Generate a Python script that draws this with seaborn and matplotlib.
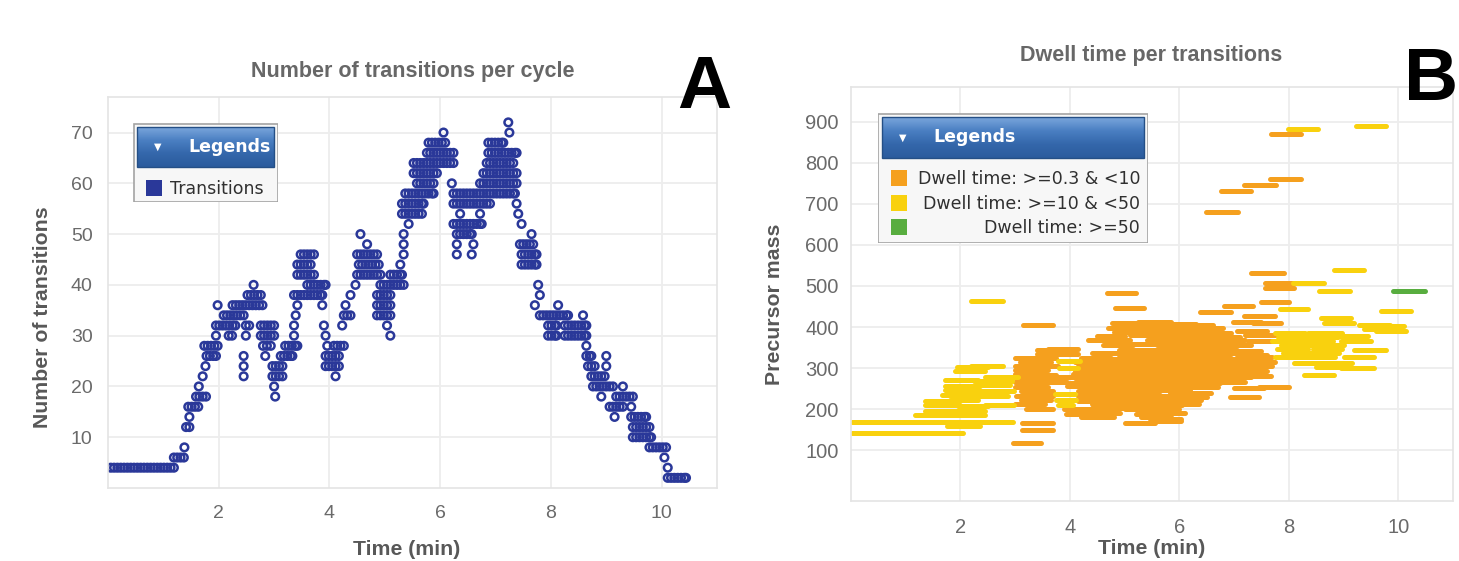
import matplotlib
matplotlib.use("Agg")
import matplotlib.pyplot as plt
from matplotlib.patches import Rectangle
from matplotlib.colors import LinearSegmentedColormap
import numpy as np
import pandas as pd
import seaborn as sns

# ---------------- Panel A: transitions scheduled in each cycle ----------------
count_levels = [2, 4, 6, 8, 10, 12, 14, 16, 18, 20, 22, 24, 26, 28, 30, 32, 34, 36,
                38, 40, 42, 44, 46, 48, 50, 52, 54, 56, 58, 60, 62, 64, 66, 68, 70, 72]

level_times = [
    [10.11, 10.17, 10.23, 10.29, 10.35, 10.41, 10.44],                                   # 2
    [0.05, 0.11, 0.17, 0.23, 0.29, 0.35, 0.41, 0.47, 0.53, 0.59, 0.65, 0.71, 0.77,
     0.83, 0.89, 0.95, 1.01, 1.07, 1.13, 1.19, 10.11],                                   # 4
    [1.19, 1.25, 1.31, 1.37, 10.05],                                                     # 6
    [1.38, 9.78, 9.84, 9.90, 9.96, 10.02, 10.08],                                        # 8
    [9.48, 9.54, 9.60, 9.66, 9.72, 9.78, 9.81],                                          # 10
    [1.41, 1.47, 9.48, 9.54, 9.60, 9.66, 9.72, 9.78],                                    # 12
    [1.47, 9.15, 9.45, 9.51, 9.57, 9.63, 9.69, 9.72],                                    # 14
    [1.45, 1.51, 1.57, 1.63, 9.06, 9.12, 9.18, 9.24, 9.30, 9.45],                        # 16
    [1.59, 1.65, 1.71, 1.77, 3.02, 8.91, 9.18, 9.24, 9.30, 9.36, 9.42, 9.48],            # 18
    [1.64, 3.00, 8.76, 8.82, 8.88, 8.94, 9.00, 9.06, 9.12, 9.30],                        # 20
    [1.71, 2.45, 2.97, 3.03, 3.09, 3.15, 4.11, 8.73, 8.79, 8.85, 8.91, 8.97],            # 22
    [1.76, 2.45, 2.97, 3.03, 3.09, 3.15, 3.93, 3.99, 4.05, 4.11, 4.17,
     8.67, 8.73, 8.79, 9.00],                                                            # 24
    [1.78, 1.84, 1.90, 1.95, 2.45, 2.84, 3.12, 3.18, 3.24, 3.30, 3.33,
     3.93, 3.99, 4.05, 4.11, 4.17, 8.64, 8.70, 8.73, 9.00],                              # 26
    [1.74, 1.80, 1.86, 1.92, 1.98, 2.80, 2.87, 2.94, 3.20, 3.26, 3.32, 3.38, 3.42,
     3.96, 4.08, 4.14, 4.20, 4.26, 8.64],                                                # 28
    [1.95, 2.18, 2.24, 2.49, 2.76, 2.82, 2.88, 2.94, 3.00, 3.36, 3.93, 5.10,
     7.95, 8.01, 8.07, 8.10, 8.25, 8.31, 8.37, 8.43, 8.49, 8.55, 8.61, 8.64],            # 30
    [1.95, 2.01, 2.07, 2.13, 2.19, 2.25, 2.30, 2.49, 2.55, 2.76, 2.82, 2.88, 2.94,
     3.00, 3.36, 3.90, 4.23, 5.04, 7.95, 8.01, 8.07, 8.10, 8.25, 8.31, 8.37, 8.43,
     8.49, 8.55, 8.61, 8.64],                                                            # 32
    [2.09, 2.15, 2.21, 2.27, 2.33, 2.39, 2.45, 3.39, 4.26, 4.32, 4.38, 4.86, 4.92,
     4.98, 5.04, 5.10, 7.80, 7.86, 7.92, 7.98, 8.04, 8.10, 8.16, 8.22, 8.28, 8.31,
     8.58],                                                                              # 34
    [1.98, 2.25, 2.31, 2.37, 2.43, 2.49, 2.55, 2.61, 2.67, 2.73, 2.79, 3.42, 3.87,
     4.29, 4.86, 4.92, 4.98, 5.04, 5.10, 7.71, 8.13],                                    # 36
    [2.52, 2.58, 2.64, 2.70, 2.76, 3.36, 3.42, 3.48, 3.54, 3.60, 3.66, 3.72, 3.78,
     3.84, 3.87, 4.38, 4.86, 4.92, 4.98, 5.04, 5.10, 7.80],                              # 38
    [2.63, 3.60, 3.66, 3.72, 3.78, 3.84, 3.90, 3.93, 4.47, 4.92, 4.98, 5.04, 5.10,
     5.16, 5.22, 5.28, 5.34, 7.77],                                                      # 40
    [3.42, 3.48, 3.54, 3.60, 3.66, 3.72, 4.50, 4.56, 4.62, 4.68, 4.74, 4.80, 4.86,
     4.92, 5.10, 5.16, 5.22, 5.28, 5.31],                                                # 42
    [3.42, 3.48, 3.54, 3.60, 3.66, 4.53, 4.59, 4.65, 4.71, 4.77, 4.83, 4.89, 5.28,
     7.47, 7.53, 7.59, 7.65, 7.71, 7.74],                                                # 44
    [3.48, 3.54, 3.60, 3.66, 3.72, 4.50, 4.56, 4.62, 4.68, 4.74, 4.80, 4.86, 5.34,
     6.30, 6.57, 7.47, 7.53, 7.59, 7.65, 7.71, 7.74],                                    # 46
    [4.68, 5.34, 6.30, 6.60, 7.44, 7.50, 7.56, 7.62, 7.68],                              # 48
    [4.56, 5.34, 6.30, 6.36, 6.42, 6.48, 6.54, 6.57, 7.65],                              # 50
    [5.43, 6.24, 6.30, 6.36, 6.42, 6.48, 6.54, 6.60, 6.66, 6.72, 6.75, 7.47],            # 52
    [5.31, 5.37, 5.43, 5.49, 5.55, 5.61, 5.67, 6.36, 6.72, 7.41],                        # 54
    [5.31, 5.37, 5.43, 5.49, 5.55, 5.61, 5.67, 5.70, 6.24, 6.30, 6.36, 6.42, 6.48,
     6.54, 6.60, 6.66, 6.72, 6.78, 6.84, 6.90, 7.38],                                    # 56
    [5.37, 5.43, 5.49, 5.55, 5.61, 5.67, 5.73, 5.79, 5.85, 5.88, 6.24, 6.30, 6.36,
     6.42, 6.48, 6.54, 6.60, 6.66, 6.72, 6.78, 6.84, 6.90, 6.96, 7.02, 7.08, 7.14,
     7.20, 7.26, 7.32, 7.35],                                                            # 58
    [5.58, 5.64, 5.70, 5.76, 5.82, 5.88, 6.21, 6.72, 6.78, 6.84, 6.90, 6.96, 7.02,
     7.08, 7.14, 7.20, 7.26, 7.32, 7.38],                                                # 60
    [5.52, 5.58, 5.64, 5.70, 5.76, 5.82, 5.88, 5.94, 6.78, 6.84, 6.90, 6.96, 7.02,
     7.08, 7.14, 7.20, 7.26, 7.32, 7.38],                                                # 62
    [5.52, 5.58, 5.64, 5.70, 5.76, 5.82, 5.88, 5.94, 6.00, 6.06, 6.12, 6.18, 6.24,
     6.84, 6.90, 6.96, 7.02, 7.08, 7.14, 7.20, 7.26, 7.32],                              # 64
    [5.76, 5.82, 5.88, 5.94, 6.00, 6.06, 6.12, 6.18, 6.24, 6.87, 6.93, 6.99, 7.05,
     7.11, 7.17, 7.23, 7.29, 7.35, 7.38],                                                # 66
    [5.79, 5.85, 5.91, 5.97, 6.03, 6.09, 6.87, 6.93, 6.99, 7.05, 7.11, 7.14],            # 68
    [6.06, 7.25],                                                                        # 70
    [7.23],                                                                              # 72
]

# ---------------- Panel B: acquisition window of each transition ----------------
# (start min, end min, precursor mass)
orange_windows = [   # dwell time >=0.3 & <10
    (3.14, 3.69, 406), (4.67, 5.21, 482), (4.82, 5.36, 447),
    (4.76, 5.30, 410), (5.25, 5.85, 413), (5.75, 6.30, 408), (6.25, 6.62, 404),
    (4.70, 5.25, 398), (5.20, 5.80, 400), (5.70, 6.30, 396), (6.20, 6.80, 398),
    (4.80, 5.40, 389), (5.35, 5.95, 387), (5.90, 6.50, 390), (6.45, 6.95, 386),
    (4.50, 5.00, 378), (5.10, 5.70, 380), (5.60, 6.20, 377), (6.15, 6.75, 379), (6.60, 7.10, 376),
    (4.33, 5.09, 368), (5.40, 5.95, 368), (5.90, 6.50, 366), (6.45, 7.20, 369),
    (4.60, 5.15, 356), (5.10, 5.65, 358), (5.60, 6.20, 355), (6.15, 6.75, 357), (6.70, 7.30, 356),
    (3.39, 3.95, 344), (3.60, 4.15, 346), (4.90, 5.45, 345), (5.40, 6.00, 343),
    (5.95, 6.55, 346), (6.50, 7.05, 344), (7.00, 7.50, 342),
    (3.40, 4.15, 334), (4.40, 4.95, 336), (4.90, 5.50, 333), (5.45, 6.05, 335),
    (6.00, 6.60, 334), (6.55, 7.10, 336), (7.05, 7.60, 333),
    (3.00, 3.55, 325), (3.50, 3.75, 324), (4.20, 4.75, 325), (4.70, 5.30, 323), (5.25, 5.85, 326),
    (5.80, 6.40, 324), (6.35, 6.95, 325), (6.90, 7.45, 323), (7.20, 7.70, 326),
    (3.08, 3.65, 315), (4.10, 4.65, 315), (4.60, 5.20, 316), (5.15, 5.75, 314),
    (5.70, 6.30, 315), (6.25, 6.85, 313), (6.80, 7.35, 316), (7.25, 7.75, 314),
    (3.00, 3.55, 305), (3.45, 3.78, 304), (4.15, 4.55, 306), (4.50, 5.10, 304), (5.05, 5.65, 305),
    (5.60, 6.20, 303), (6.15, 6.75, 306), (6.70, 7.25, 304), (7.20, 7.70, 305),
    (3.00, 3.60, 295), (4.10, 4.70, 294), (4.65, 5.25, 296), (5.20, 5.80, 294),
    (5.75, 6.35, 295), (6.30, 6.90, 293), (6.85, 7.40, 296), (7.15, 7.60, 294),
    (3.00, 3.55, 285), (3.45, 3.75, 284), (4.05, 4.60, 285), (4.55, 5.15, 284),
    (5.10, 5.70, 286), (5.65, 6.25, 284), (6.20, 6.80, 285), (6.75, 7.40, 283),
    (3.02, 3.60, 276), (3.50, 4.05, 278), (4.10, 4.65, 275), (4.60, 5.20, 274), (5.15, 5.75, 276),
    (5.70, 6.30, 274), (6.25, 6.85, 275), (6.77, 7.30, 278), (7.15, 7.68, 281),
    (3.00, 3.55, 266), (3.50, 3.95, 265), (4.00, 4.55, 264), (4.50, 5.10, 266),
    (5.05, 5.65, 264), (5.60, 6.20, 265), (6.15, 6.75, 263), (6.70, 7.20, 266),
    (3.00, 3.60, 255), (3.95, 4.50, 256), (4.45, 5.05, 254), (5.00, 5.60, 256),
    (5.55, 6.15, 254), (6.10, 6.70, 255), (7.00, 7.55, 252), (7.45, 8.00, 255),
    (3.10, 3.70, 244), (4.15, 4.55, 245), (4.50, 5.10, 243), (5.05, 5.65, 244),
    (5.60, 6.20, 246), (5.82, 6.58, 239),
    (3.02, 3.69, 231), (4.15, 4.45, 233), (4.40, 5.00, 231), (4.95, 5.55, 233),
    (5.46, 6.00, 232), (6.00, 6.50, 230), (6.92, 7.46, 230),
    (3.10, 3.65, 221), (4.15, 4.70, 220), (4.65, 5.25, 222), (5.20, 5.80, 220), (5.75, 6.40, 221),
    (3.00, 3.55, 212), (4.40, 4.95, 212), (4.90, 5.50, 213), (5.45, 6.05, 211), (6.00, 6.35, 212),
    (3.20, 3.70, 201), (3.90, 4.45, 200), (4.40, 5.00, 202), (5.00, 5.55, 200), (5.50, 6.00, 201),
    (3.93, 4.45, 189), (4.40, 4.91, 190), (5.20, 5.70, 189), (5.65, 6.10, 190),
    (4.20, 4.80, 180), (5.30, 5.85, 181),
    (3.13, 3.69, 167), (3.13, 3.69, 150), (2.96, 3.48, 118),
    (5.00, 5.55, 165), (5.46, 6.03, 170), (5.50, 6.03, 176),
    (6.37, 6.95, 436), (6.82, 7.34, 452), (7.49, 8.01, 462),
    (7.19, 7.74, 427), (6.98, 7.50, 413), (7.35, 7.86, 411),
    (7.05, 7.60, 391), (7.20, 7.80, 380), (7.25, 7.75, 366),
    (7.56, 8.07, 508), (7.56, 8.10, 494), (7.31, 7.92, 531),
    (6.49, 7.07, 681), (6.76, 7.31, 732), (7.19, 7.77, 747), (7.65, 8.22, 760),
    (7.68, 8.22, 871),
]

yellow_windows = [   # dwell time >=10 & <50
    (0.02, 2.96, 169), (0.02, 2.04, 142), (1.75, 2.35, 160),
    (1.17, 2.44, 185), (1.35, 2.44, 196),
    (1.35, 2.00, 209), (1.95, 2.50, 207), (2.45, 2.98, 210),
    (1.35, 1.95, 220), (1.80, 2.32, 222),
    (1.66, 2.30, 234), (2.20, 2.86, 232),
    (1.72, 2.35, 246), (2.30, 2.98, 244),
    (1.72, 2.30, 256), (2.25, 2.90, 258),
    (1.72, 2.32, 271), (2.30, 2.95, 268),
    (2.44, 3.05, 279),
    (1.90, 2.45, 293), (1.93, 2.50, 303), (2.20, 2.78, 306),
    (2.20, 2.78, 463),
    (3.78, 4.18, 318), (3.80, 4.15, 300), (3.72, 4.10, 236), (3.75, 4.12, 222), (3.78, 4.05, 210),
    (7.74, 8.30, 386), (8.35, 8.98, 386),
    (7.80, 8.40, 376), (8.30, 8.90, 376), (8.85, 9.45, 378),
    (7.70, 8.28, 366), (8.20, 8.80, 366), (8.95, 9.50, 366),
    (7.85, 8.45, 356), (8.40, 9.00, 356),
    (7.78, 8.35, 346), (8.45, 8.98, 346), (9.20, 9.78, 344),
    (7.90, 8.45, 336), (8.35, 8.92, 336),
    (7.74, 8.30, 326), (8.30, 8.85, 326), (9.00, 9.56, 326),
    (8.10, 8.65, 312), (8.60, 9.15, 312),
    (8.50, 9.05, 302), (8.95, 9.56, 300),
    (8.28, 8.83, 283),
    (9.29, 9.84, 405), (9.55, 10.11, 402), (9.38, 9.95, 394), (9.60, 10.14, 390),
    (8.65, 9.20, 411), (8.59, 9.14, 421),
    (7.83, 8.35, 443), (9.68, 10.23, 440),
    (8.56, 9.11, 489), (8.07, 8.65, 508), (8.83, 9.38, 538),
    (7.98, 8.53, 882), (9.23, 9.78, 889),
]

green_windows = [    # dwell time >=50
    (9.90, 10.49, 489),
]

dwell_labels = ["Dwell time: >=0.3 & <10", "Dwell time: >=10 & <50", "Dwell time: >=50"]
dwell_colors = ["#f5a01e", "#f9d10e", "#58ad3f"]
point_color = "#2a3899"

# ---------------- tidy tables ----------------
df_a = pd.DataFrame(
    [(t, lvl) for lvl, ts in zip(count_levels, level_times) for t in ts],
    columns=["time", "transitions"],
)

rows = []
seg_id = 0
for label, windows in zip(dwell_labels, [orange_windows, yellow_windows, green_windows]):
    for t0, t1, mass in windows:
        rows.append((seg_id, label, t0, mass))
        rows.append((seg_id, label, t1, mass))
        seg_id += 1
df_b = pd.DataFrame(rows, columns=["window", "dwell", "time", "mass"])

# ---------------- figure ----------------
sns.set_style("white")
plt.rcParams["font.family"] = ["Liberation Sans", "DejaVu Sans"]

W, H = 1459, 561
fig = plt.figure(figsize=(W / 100, H / 100), dpi=100)


def px_rect(x0, y0, x1, y1):
    return [x0 / W, 1 - y1 / H, (x1 - x0) / W, (y1 - y0) / H]


ax_a = fig.add_axes(px_rect(108, 97, 717, 488))
ax_b = fig.add_axes(px_rect(851, 87, 1453, 501))

sns.scatterplot(data=df_a, x="time", y="transitions", ax=ax_a, marker="o", s=30,
                facecolor="none", edgecolor=point_color, linewidth=1.8, legend=False)

sns.lineplot(data=df_b, x="time", y="mass", units="window", estimator=None,
             hue="dwell", hue_order=dwell_labels,
             palette=dict(zip(dwell_labels, dwell_colors)),
             linewidth=3.6, solid_capstyle="round", legend=False, ax=ax_b)

ax_a.set_xlim(0, 11)
ax_a.set_ylim(0, 77)
ax_a.set_xticks([2, 4, 6, 8, 10])
ax_a.set_yticks([10, 20, 30, 40, 50, 60, 70])
ax_b.set_xlim(0, 11)
ax_b.set_ylim(-24, 985)
ax_b.set_xticks([2, 4, 6, 8, 10])
ax_b.set_yticks([100, 200, 300, 400, 500, 600, 700, 800, 900])

for ax in (ax_a, ax_b):
    ax.set_facecolor("white")
    ax.grid(True, color="#ededed", linewidth=1.3)
    ax.set_axisbelow(True)
    for sp in ax.spines.values():
        sp.set_color("#e4e4e4")
        sp.set_linewidth(1.2)
    ax.tick_params(length=0, labelsize=14, labelcolor="#6a6a6a")

ax_b.tick_params(labelsize=14.5)
ax_a.tick_params(axis="x", pad=12)
ax_a.tick_params(axis="y", pad=11)
ax_b.tick_params(axis="x", pad=12)
ax_b.tick_params(axis="y", pad=9)

label_kw = dict(fontsize=15.3, fontweight="bold", color="#585858")
ax_a.set_xlabel("Time (min)", **label_kw)
ax_a.set_ylabel("Number of transitions", **label_kw)
ax_b.set_xlabel("Time (min)", **label_kw)
ax_b.set_ylabel("Precursor mass", **label_kw)
ax_a.xaxis.set_label_coords(0.49, -0.132)
ax_a.yaxis.set_label_coords(-0.092, 0.437)
ax_b.xaxis.set_label_coords(0.50, -0.092)
ax_b.yaxis.set_label_coords(-0.112, 0.475)

title_kw = dict(ha="center", va="center", fontsize=15.5, fontweight="bold", color="#676767")
fig.text(413 / W, 1 - 71 / H, "Number of transitions per cycle", **title_kw)
fig.text(1151 / W, 1 - 55 / H, "Dwell time per transitions", **title_kw)
fig.text(704 / W, 1 - 89 / H, "A", ha="center", va="center", fontsize=54,
         fontweight="bold", color="black")
fig.text(1431 / W, 1 - 80 / H, "B", ha="center", va="center", fontsize=54,
         fontweight="bold", color="black")

header_cmap = LinearSegmentedColormap.from_list(
    "header", ["#7aa6dc", "#4a7fc2", "#3467ab", "#2b5c9d"])


def legend_box(box, header_h, entries, right_align=False):
    x0, y0, x1, y1 = box
    w, h = x1 - x0, y1 - y0
    lax = fig.add_axes(px_rect(x0, y0, x1, y1))
    lax.axis("off")
    lax.add_patch(Rectangle((0.5, 0.5), w - 1, h - 1, facecolor="#f7f7f7",
                            edgecolor="#a3a3a3", linewidth=1.2))
    grad = np.linspace(0, 1, 64)[:, None]
    lax.imshow(grad, extent=(4, w - 4, 4 + header_h, 4), origin="upper",
               aspect="auto", cmap=header_cmap, zorder=2)
    lax.add_patch(Rectangle((4, 4), w - 8, header_h, facecolor="none",
                            edgecolor="#244f86", linewidth=1.0, zorder=3))
    lax.text(25, 4 + header_h / 2, "\u25BC", ha="center", va="center", fontsize=7,
             color="white", family="DejaVu Sans", zorder=4)
    lax.text(55, 4 + header_h / 2, "Legends", ha="left", va="center", fontsize=12.5,
             fontweight="bold", color="white", family="DejaVu Sans", zorder=4)
    for (label, color, yc) in entries:
        lax.add_patch(Rectangle((13, yc - 8), 16, 16, facecolor=color, edgecolor="none"))
        if right_align:
            lax.text(w - 8, yc + 1, label, ha="right", va="center", fontsize=12.5,
                     color="#303030", family="DejaVu Sans")
        else:
            lax.text(37, yc + 1, label, ha="left", va="center", fontsize=12.5,
                     color="#303030", family="DejaVu Sans")
    lax.set_xlim(0, w)
    lax.set_ylim(h, 0)


legend_box((133, 123, 278, 202), 40, [("Transitions", point_color, 65)])
legend_box((878, 113, 1148, 243), 41,
           [(dwell_labels[0], dwell_colors[0], 65),
            (dwell_labels[1], dwell_colors[1], 90),
            (dwell_labels[2], dwell_colors[2], 114)],
           right_align=True)

fig.savefig("out.png", dpi=100)
